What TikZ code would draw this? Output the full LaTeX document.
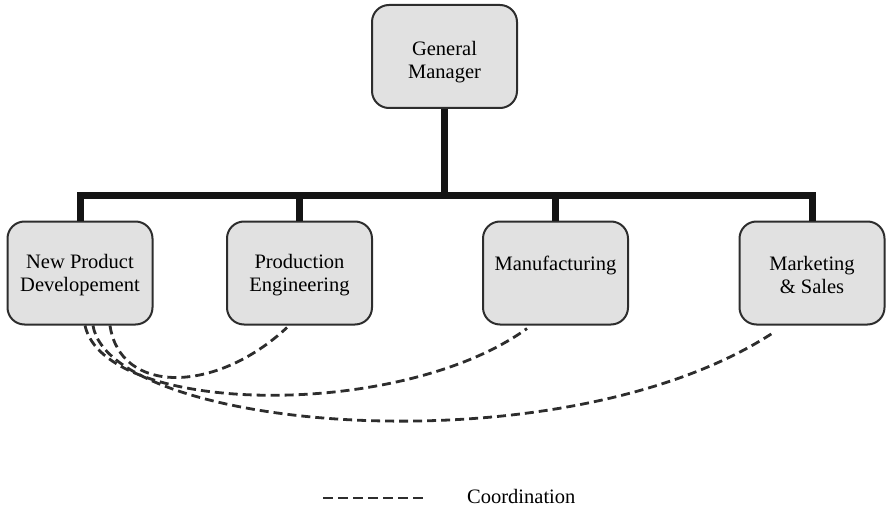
\documentclass[tikz,border=0pt]{standalone}
\usepackage{fontspec}
\setmainfont{Liberation Serif}
\usetikzlibrary{calc}

\definecolor{boxfill}{RGB}{225,225,225}
\definecolor{boxline}{RGB}{45,45,45}
\definecolor{dashcol}{RGB}{45,45,45}

\tikzset{
  unit/.style={
    draw=boxline, fill=boxfill, line width=2pt, rounded corners=17pt,
    minimum width=145pt, minimum height=103pt, inner sep=0pt,
    align=center, text=black,
    font=\fontsize{20.5pt}{23pt}\selectfont
  },
  trunk/.style={line width=7pt, line join=miter, black!92},
  coord/.style={line width=2.8pt, dashcol, dash pattern=on 9pt off 5pt}
}

\begin{document}
\begin{tikzpicture}[x=1pt, y=-1pt]
  \useasboundingbox (0,0) rectangle (886,508);

  % units of the organisation
  \node[unit] (gm)  at (444.5,56.5) {\rule{0pt}{26pt}General\\Manager};
  \node[unit] (npd) at (80,273)     {\rule{0pt}{18pt}New Product\\Developement};
  \node[unit] (pe)  at (299.5,273)  {\rule{0pt}{18pt}Production\\Engineering};
  \node[unit] (mf)  at (555.5,273)  {\rule{0pt}{18pt}Manufacturing\\\phantom{M}};
  \node[unit] (ms)  at (812,273)    {\rule{0pt}{18pt}Marketing\\\& Sales};

  % reporting lines
  \coordinate (bus) at (444.5,195);
  \draw[trunk] (gm.south) -- (bus);
  \draw[trunk] (npd.north) -- (npd.north |- bus) -- (ms.north |- bus) -- (ms.north);
  \draw[trunk] (pe.north) -- (pe.north |- bus);
  \draw[trunk] (mf.north) -- (mf.north |- bus);

  % coordination links
  \coordinate (s1) at ([xshift=30pt]npd.south);
  \coordinate (s2) at ([xshift=5pt]npd.south);
  \coordinate (s3) at ([xshift=13pt]npd.south);
  \coordinate (e1) at ([xshift=-12.5pt,yshift=-2pt]pe.south);
  \coordinate (e2) at ([xshift=-28.5pt,yshift=-3pt]mf.south);
  \coordinate (e3) at ([xshift=-40pt,yshift=-8pt]ms.south);

  \draw[coord] (s1) .. controls +(10,69) and +(-72,67) .. (e1);
  \draw[coord] (s2) .. controls +(20,90) and +(-127,92) .. (e2);
  \draw[coord] (s3) .. controls +(17,105) and +(-212,137) .. (e3);

  % legend
  \coordinate (la) at (323,498);
  \coordinate (lb) at (423,498);
  \draw[line width=2.8pt, dashcol, dash pattern=on 10pt off 5pt] (la) -- (lb);
  \node[anchor=base west, inner sep=0pt, text=black,
        font=\fontsize{20.5pt}{23pt}\selectfont] (lg) at (467,503) {Coordination};
\end{tikzpicture}
\end{document}
